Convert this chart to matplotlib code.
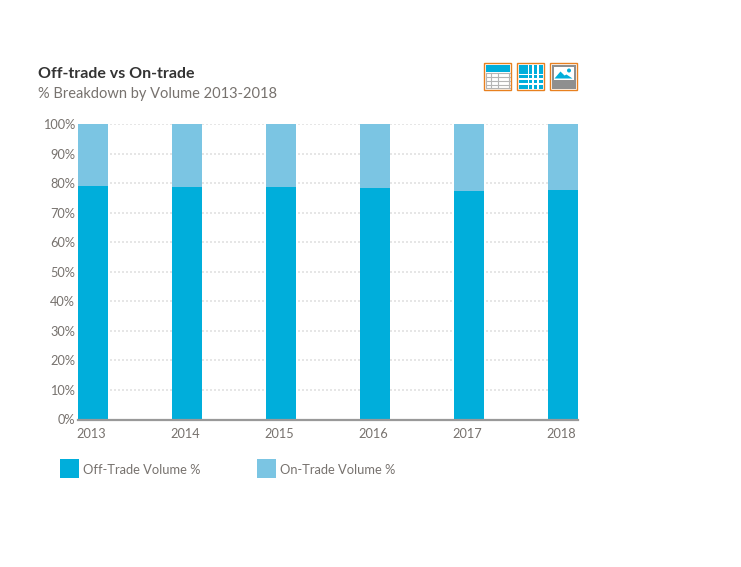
import matplotlib
matplotlib.use('Agg')
import matplotlib.pyplot as plt
from matplotlib.patches import Rectangle, Polygon, Circle
from matplotlib.transforms import ScaledTranslation

years = ['2013', '2014', '2015', '2016', '2017', '2018']
off_trade = [79.0, 78.7, 78.7, 78.3, 77.3, 77.7]
on_trade = [21.0, 21.3, 21.3, 21.7, 22.7, 22.3]
y_ticks = [0, 10, 20, 30, 40, 50, 60, 70, 80, 90, 100]

BLUE = '#00aedb'
LIGHT = '#7bc5e3'
ORANGE = '#e8801f'
W, H = 741, 567

plt.rcParams['font.family'] = ['Lato', 'DejaVu Sans']

fig = plt.figure(figsize=(W / 100, H / 100), dpi=100)

# main axes, placed in pixels
ax = fig.add_axes([78 / W, 1 - 419.5 / H, 500 / W, 295.5 / H])
x = list(range(len(years)))
w = 30 / 94
ax.bar(x, off_trade, width=w, color=BLUE, zorder=3, label='Off-Trade Volume %')
ax.bar(x, on_trade, width=w, bottom=off_trade, color=LIGHT, zorder=3, label='On-Trade Volume %')
ax.set_xlim(-15 / 94, 5 + 15 / 94)
ax.set_ylim(0, 100)
ax.set_xticks(x, years)
ax.set_yticks(y_ticks, [f'{t}%' for t in y_ticks])
ax.tick_params(length=0, labelsize=9.2, labelcolor='#77726e')
ax.tick_params(axis='x', pad=6)
ax.tick_params(axis='y', pad=2)
# year labels sit 2px left of the bar centres in the original
shift = ScaledTranslation(-2 / 100, 0, fig.dpi_scale_trans)
for lab in ax.get_xticklabels():
    lab.set_transform(lab.get_transform() + shift)
ax.grid(axis='y', color='#e6e6e6', linestyle=(0, (1, 1)), linewidth=1.44, zorder=0)
ax.set_axisbelow(True)
for s in ['top', 'left', 'right']:
    ax.spines[s].set_visible(False)
ax.spines['bottom'].set_color('#999999')
ax.spines['bottom'].set_linewidth(1.6)
ax.spines['bottom'].set_zorder(4)

# overlay in pixel coords for title, legend and icons
ov = fig.add_axes([0, 0, 1, 1], facecolor='none')
ov.set_xlim(0, W)
ov.set_ylim(H, 0)
ov.axis('off')

ov.text(38, 74, 'Off-trade vs On-trade', fontsize=11.55, fontweight='bold', color='#333333', va='center')
ov.text(38, 94, '% Breakdown by Volume 2013-2018', fontsize=10.55, color='#77726e', va='center')

ov.add_patch(Rectangle((60, 459), 19, 19, color=BLUE, lw=0))
ov.text(83, 469.5, 'Off-Trade Volume %', fontsize=9.3, color='#77726e', va='center')
ov.add_patch(Rectangle((257, 459), 19, 19, color=LIGHT, lw=0))
ov.text(280, 469.5, 'On-Trade Volume %', fontsize=9.3, color='#77726e', va='center')


def frame(x0):
    ov.add_patch(Rectangle((x0, 63), 27, 27, fc='white', ec=ORANGE, lw=1))


# table icon
frame(484)
ov.add_patch(Rectangle((485.5, 64.5), 24, 7, color=BLUE, lw=0))
for yy in [72.5, 76.5, 80.5, 84.5, 88]:
    ov.plot([485.5, 509.5], [yy, yy], color='#b5b5b5', lw=0.8)
for xx in [486, 491, 498, 509]:
    ov.plot([xx, xx], [72.5, 88], color='#b5b5b5', lw=0.8)

# grid icon
frame(517)
for xx, ww in [(518.5, 9), (528.5, 3.5), (533.5, 3.5), (538.5, 4)]:
    for yy, hh in [(64.5, 9), (74.5, 3.5), (79.5, 3.5), (84.5, 4)]:
        ov.add_patch(Rectangle((xx, yy), ww, hh, color=BLUE, lw=0))

# image icon
frame(550)
ov.add_patch(Rectangle((551.5, 64.5), 24, 24, color='#8f8f8f', lw=0))
ov.add_patch(Rectangle((553.5, 66.5), 20, 13, color='white', lw=0))
ov.add_patch(Polygon([(554.5, 78.5), (560.5, 71.5), (564.5, 75.5), (566.5, 74.5), (572.5, 78.5)], color=BLUE, lw=0))
ov.add_patch(Circle((569, 70.5), 2, color=BLUE, lw=0))

fig.savefig('out.png', dpi=100, facecolor='white')
